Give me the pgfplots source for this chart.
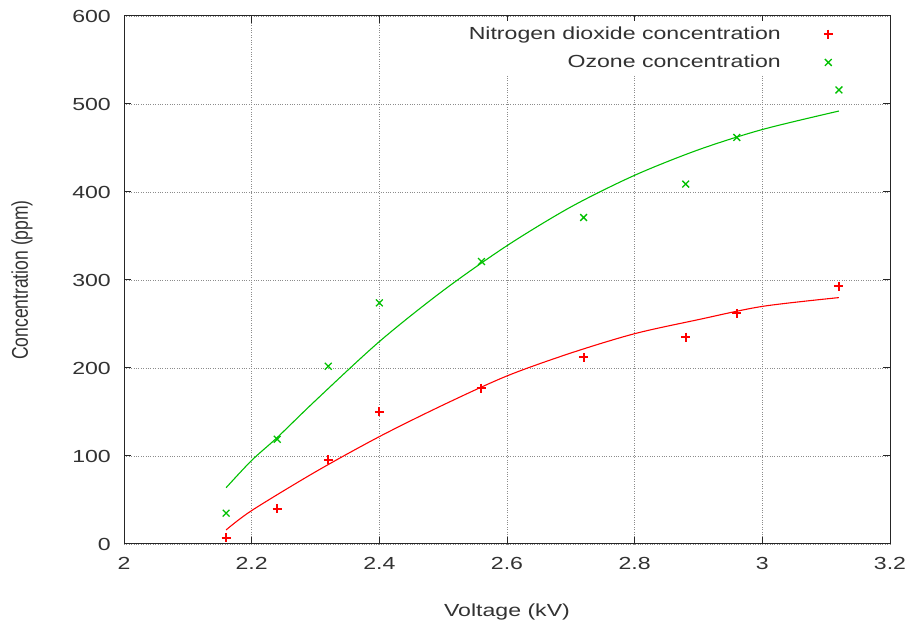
\documentclass[border=0pt]{standalone}
\usepackage{fontspec}
\setmainfont{Liberation Sans}[FakeStretch=1.32]
\newfontfamily\ylabfont{Liberation Sans}[FakeStretch=0.77]
\usepackage{pgfplots}
\pgfplotsset{compat=1.18}
\definecolor{gpgreen}{RGB}{0,192,0}
\definecolor{txt}{RGB}{50,50,50}
\begin{document}
\fontsize{17.5pt}{21pt}\selectfont
\begin{tikzpicture}
\path[use as bounding box] (0,0) rectangle (910pt,628pt);
\begin{axis}[
  at={(124pt,84pt)}, anchor=south west,
  scale only axis, width=766pt, height=528pt,
  xmin=2, xmax=3.2, ymin=0, ymax=600,
  xtick={2,2.2,2.4,2.6,2.8,3,3.2},
  ytick={0,100,200,300,400,500,600},
  tick align=inside, major tick length=7pt,
  xtick pos=both, ytick pos=both,
  grid=major,
  grid style={dotted, color=black!45, line width=0.9pt},
  axis line style={black!85, line width=1pt},
  every tick/.style={black!85, line width=1pt},
  tick label style={text=txt, /pgf/number format/assume math mode=true},
  xticklabel style={anchor=north, inner sep=0pt, yshift=-13pt},
  yticklabel style={anchor=east, inner sep=0pt, xshift=-13pt},
  xlabel={Voltage (kV)},
  ylabel={\ylabfont\fontsize{22.75pt}{26pt}\selectfont Concentration (ppm)},
  xlabel style={at={(rel axis cs:0.5,0)}, anchor=center, yshift=-68pt, text=txt},
  ylabel style={at={(rel axis cs:0,0.5)}, anchor=center, yshift=102pt, text=txt},
  legend style={draw=none, fill=white, at={(rel axis cs:0.9295,0.99)}, anchor=north east,
    inner sep=3pt, column sep=41pt, row sep=9pt, text=txt},
  legend cell align=right, legend plot pos=right,
  legend image code/.code={\draw[#1] plot coordinates {(0pt,0pt)};},
]
\addplot[only marks, mark=+, red, mark size=4.5pt, line width=2pt]
  coordinates {(2.16,7) (2.24,40) (2.32,96) (2.40,150) (2.56,177) (2.72,212) (2.88,235) (2.96,262) (3.12,293)};
\addlegendentry{Nitrogen dioxide concentration}
\addplot[only marks, mark=x, gpgreen, mark size=4.8pt, line width=1.3pt]
  coordinates {(2.16,35) (2.24,119) (2.32,202) (2.40,274) (2.56,321) (2.72,371) (2.88,409) (2.96,462) (3.12,516)};
\addlegendentry{Ozone concentration}
\addplot[no marks, smooth, red, line width=1.1pt, forget plot]
  coordinates {(2.16,16) (2.2,38) (2.3,82) (2.4,122) (2.5,158) (2.6,191) (2.7,217) (2.8,239) (2.9,255) (3.0,270) (3.12,280)};
\addplot[no marks, smooth, gpgreen, line width=1.1pt, forget plot]
  coordinates {(2.16,64) (2.2,95) (2.24,121) (2.3,163) (2.4,230) (2.5,288) (2.6,339) (2.7,383) (2.8,419) (2.9,448) (3.0,471) (3.12,492)};
\end{axis}
\end{tikzpicture}
\end{document}
